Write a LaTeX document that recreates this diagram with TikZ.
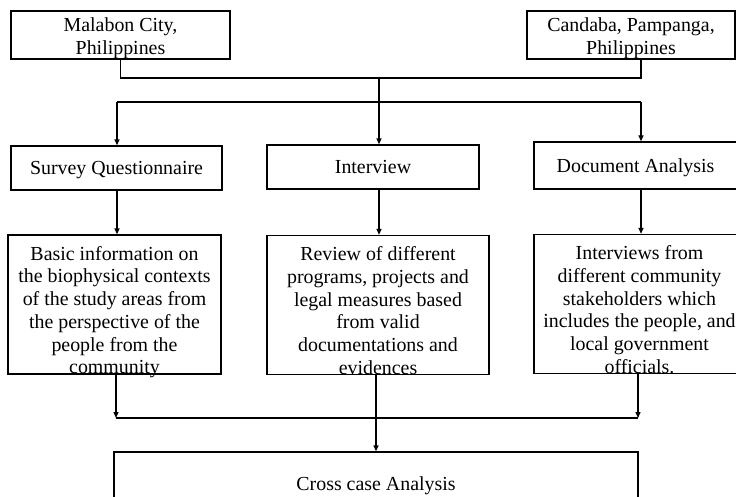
\documentclass[tikz,border=0pt]{standalone}
\usepackage{fontspec}
\setmainfont{Liberation Serif}
\usetikzlibrary{arrows.meta,positioning,calc}
\newcommand\txtdrop[1]{\rule{0pt}{#1}}
\tikzset{box/.style={draw,line width=1.3pt,inner sep=0pt,align=center},
 tall/.style={box,text depth=0pt,minimum height=139pt},
 flow/.style={-{Triangle[length=6pt,width=5pt]},line width=1.3pt},
 wire/.style={line width=1.3pt}}

\begin{document}
\begin{tikzpicture}[x=1pt,y=-1pt,font=\fontsize{19.9}{22.7}\selectfont]
\clip (0,0) rectangle (736,497);
% sites
\node[box,minimum width=219pt,minimum height=48pt](mal) at (120.5,35){\txtdrop{20pt}Malabon City,\\Philippines};
\node[box,minimum width=208pt,minimum height=48pt](cand) at (631,35){\txtdrop{20pt}Candaba, Pampanga,\\Philippines};
% methods
\node[box,minimum width=211pt,minimum height=44pt](survey) at (116.5,168){\txtdrop{18pt}Survey Questionnaire};
\node[box,minimum width=212pt,minimum height=44pt](interview) at (373,167){Interview};
\node[box,minimum width=203pt,minimum height=47pt](docan) at (635.5,165.5){\txtdrop{19pt}Document Analysis};
% outputs
\node[tall,minimum width=213pt](basic) at (114.5,304.5){\txtdrop{25pt}Basic information on\\the biophysical contexts\\of the study areas from\\the perspective of the\\people from the\\community};
\node[tall,minimum width=222pt](review) at (378,305){\txtdrop{25pt}Review of different\\programs, projects and\\legal measures based\\from valid\\documentations and\\evidences};
\node[tall,minimum width=203pt](stake) at (635.5,304){\txtdrop{25pt}\hspace*{8pt}Interviews from\\\hspace*{8pt}different community\\\hspace*{8pt}stakeholders which\\\hspace*{8pt}includes the people, and\\\hspace*{8pt}local government\\\hspace*{8pt}officials.};
\node[box,minimum width=524pt,minimum height=64pt](cross) at (376,484){\txtdrop{17pt}Cross case Analysis};
% buses
\coordinate (topbus) at (379,78);
\coordinate (mbl) at (117,102);
\coordinate (mbr) at (641,102);
\coordinate (lbl) at (116,418);
\coordinate (lbr) at (638,418);
\coordinate (lowbus) at (376,418);
\draw[wire] (mal.south) |- (topbus) -| ([xshift=10pt]cand.south);
\draw[wire] (mbl) -- (mbr);
\draw[flow] (topbus) -- (topbus |- interview.north);
\draw[flow] (mbl) -- (mbl |- survey.north);
\draw[flow] (mbr) -- (mbr |- docan.north);
\draw[flow] (mbl |- survey.south) -- (mbl |- basic.north);
\draw[flow] (topbus |- interview.south) -- (topbus |- review.north);
\draw[flow] (mbr |- docan.south) -- (mbr |- stake.north);
\draw[flow] (lbl |- basic.south) -- (lbl);
\draw[flow] (lbr |- stake.south) -- (lbr);
\draw[wire] (lbl) -- (lbr);
\draw[flow] (lowbus |- review.south) -- (lowbus |- cross.north);
\end{tikzpicture}
\end{document}
